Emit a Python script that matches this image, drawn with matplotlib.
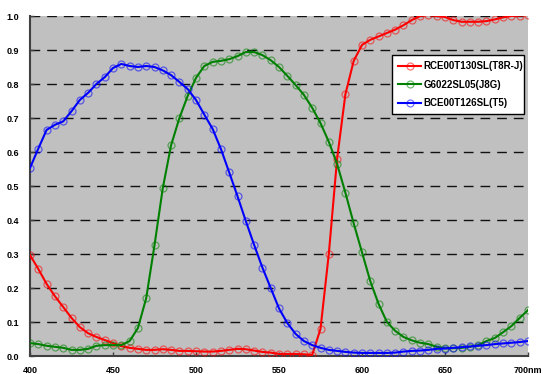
import matplotlib
matplotlib.use("Agg")
import matplotlib.pyplot as plt
import numpy as np

plt.rcParams['font.family'] = ['Liberation Sans', 'DejaVu Sans']

wavelength = list(range(400, 701, 5))

red_T8RJ = [0.297, 0.256, 0.212, 0.176, 0.144, 0.112, 0.085, 0.067, 0.056, 0.047,
            0.038, 0.029, 0.024, 0.021, 0.018, 0.018, 0.020, 0.018, 0.015, 0.015,
            0.014, 0.013, 0.013, 0.015, 0.018, 0.021, 0.020, 0.016, 0.012, 0.010,
            0.006, 0.006, 0.006, 0.005, 0.003, 0.080, 0.300, 0.580, 0.770, 0.868,
            0.915, 0.930, 0.940, 0.950, 0.960, 0.973, 0.988, 1.000, 1.003, 1.000,
            0.997, 0.988, 0.983, 0.983, 0.983, 0.985, 0.990, 0.996, 1.000, 1.001,
            1.003]

green_J8G = [0.038, 0.035, 0.030, 0.027, 0.024, 0.018, 0.018, 0.021, 0.030, 0.032,
             0.032, 0.032, 0.044, 0.082, 0.170, 0.326, 0.494, 0.620, 0.700, 0.765,
             0.818, 0.853, 0.865, 0.868, 0.873, 0.882, 0.894, 0.894, 0.885, 0.870,
             0.850, 0.824, 0.797, 0.768, 0.730, 0.685, 0.630, 0.565, 0.480, 0.390,
             0.305, 0.220, 0.153, 0.100, 0.074, 0.056, 0.046, 0.039, 0.035, 0.027,
             0.023, 0.023, 0.024, 0.027, 0.032, 0.044, 0.053, 0.070, 0.088, 0.112,
             0.135]

blue_T5 = [0.553, 0.610, 0.665, 0.680, 0.690, 0.720, 0.753, 0.774, 0.800, 0.820,
           0.847, 0.859, 0.853, 0.850, 0.853, 0.850, 0.840, 0.826, 0.806, 0.785,
           0.753, 0.710, 0.668, 0.609, 0.540, 0.470, 0.397, 0.327, 0.260, 0.200,
           0.140, 0.097, 0.065, 0.044, 0.032, 0.024, 0.018, 0.015, 0.012, 0.010,
           0.009, 0.009, 0.009, 0.009, 0.010, 0.013, 0.015, 0.016, 0.018, 0.021,
           0.022, 0.024, 0.026, 0.028, 0.030, 0.032, 0.035, 0.037, 0.039, 0.041,
           0.044]

series_names = ['RCE00T130SL(T8R-J)', 'G6022SL05(J8G)', 'BCE00T126SL(T5)']
series_colors = ['#ff0000', '#008000', '#0000ff']
series_data = [red_T8RJ, green_J8G, blue_T5]

x_ticks = [400, 450, 500, 550, 600, 650, 700]
x_tick_labels = ['400', '450', '500', '550', '600', '650', '700nm']
y_ticks = [0.0, 0.1, 0.2, 0.3, 0.4, 0.5, 0.6, 0.7, 0.8, 0.9, 1.0]

W, H = 552, 374
fig = plt.figure(figsize=(W / 100, H / 100), dpi=100)
ax = fig.add_axes([30 / W, 1 - 356 / H, 498 / W, 340 / H])
ax.set_facecolor('#c0c0c0')

for name, col, vals in zip(series_names, series_colors, series_data):
    ax.plot(wavelength, vals, color=col, lw=1.5, marker='o', ms=5,
            mfc='none', mec=matplotlib.colors.to_rgba(col, 0.55), mew=0.9,
            label=name, clip_on=True, zorder=3)

ax.set_xlim(400, 700)
ax.set_ylim(0, 1.0)
for yv in y_ticks[1:]:
    ax.axhline(yv, color='#111111', lw=1.0, ls=(0, (7, 5)), zorder=1)

ax.set_xticks(x_ticks)
ax.set_xticklabels(x_tick_labels)
ax.set_yticks(y_ticks)
ax.set_yticklabels([f'{v:.1f}' for v in y_ticks])
ax.tick_params(axis='both', labelsize=6.5, direction='in', length=3,
               width=1, color='#404040')
ax.tick_params(axis='x', pad=7)
ax.tick_params(axis='y', pad=8)
for lab in ax.get_xticklabels() + ax.get_yticklabels():
    lab.set_fontweight('bold')

for s in ['top', 'right']:
    ax.spines[s].set_visible(False)
for s in ['left', 'bottom']:
    ax.spines[s].set_color('#404040')
    ax.spines[s].set_linewidth(1.5)

leg = ax.legend(loc='upper left', bbox_to_anchor=(0.727, 0.726, 0.265, 0.159),
                mode='expand', frameon=True, fancybox=False, framealpha=1,
                edgecolor='black', handlelength=2.4,
                borderaxespad=0, borderpad=0.6, labelspacing=0.9,
                handletextpad=0.25, prop={'weight': 'bold', 'size': 7})
leg.get_frame().set_linewidth(1.0)
leg.set_zorder(5)

fig.savefig('out.png', dpi=100, facecolor='white')
